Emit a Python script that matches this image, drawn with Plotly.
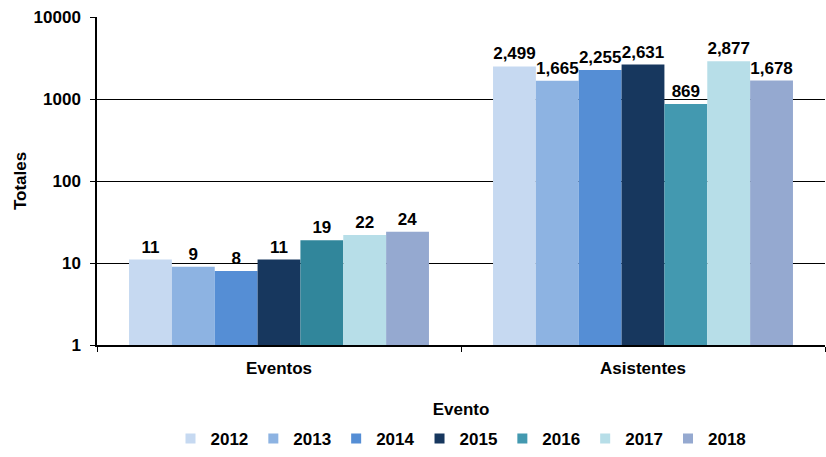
import plotly.graph_objects as go

categories = ["Eventos", "Asistentes"]
years = ["2012", "2013", "2014", "2015", "2016", "2017", "2018"]
values = {
    "2012": [11, 2499],
    "2013": [9, 1665],
    "2014": [8, 2255],
    "2015": [11, 2631],
    "2016": [19, 869],
    "2017": [22, 2877],
    "2018": [24, 1678],
}
colors = {
    "2012": ["#C6D9F1", "#C6D9F1"],
    "2013": ["#8DB3E2", "#8DB3E2"],
    "2014": ["#558ED5", "#558ED5"],
    "2015": ["#17375E", "#17375E"],
    "2016": ["#31869B", "#4399B0"],
    "2017": ["#B7DEE8", "#B7DEE8"],
    "2018": ["#95A9D0", "#95A9D0"],
}

FONT = "Liberation Sans, Arial, sans-serif"

fig = go.Figure()
for yr in years:
    fig.add_trace(
        go.Bar(
            x=categories,
            y=values[yr],
            name=yr,
            marker={"color": colors[yr], "line": {"width": 0}},
            text=[f"{v:,}" for v in values[yr]],
            texttemplate="<b>%{text}</b>",
            textposition="outside",
            textfont={"family": FONT, "size": 17, "color": "black"},
            cliponaxis=False,
            showlegend=False,
        )
    )

# legend entries as small squares, like the original
for yr in years:
    fig.add_trace(
        go.Scatter(
            x=[None],
            y=[None],
            mode="markers",
            name=f"<b>{yr}</b>",
            marker={"symbol": "square", "size": 10, "color": colors[yr][-1]},
        )
    )

fig.update_layout(
    width=826,
    height=457,
    barmode="group",
    bargap=0.176,
    bargroupgap=0,
    plot_bgcolor="white",
    paper_bgcolor="white",
    margin={"l": 97, "r": 1, "t": 17, "b": 111},
    font={"family": FONT, "size": 17, "color": "black"},
    showlegend=True,
    legend={
        "orientation": "h",
        "x": 0.5,
        "xanchor": "center",
        "y": -0.23,
        "yanchor": "top",
        "font": {"family": FONT, "size": 17, "color": "black"},
        "itemwidth": 30,
        "traceorder": "normal",
    },
)
fig.update_xaxes(
    title={"text": "<b>Evento</b>", "font": {"size": 17}, "standoff": 26},
    tickfont={"size": 17},
    tickvals=categories,
    ticktext=[f"<b>{c}</b>" for c in categories],
    ticklabelstandoff=7,
    showline=True,
    linecolor="black",
    linewidth=1.5,
    ticks="outside",
    tickson="boundaries",
    ticklen=5,
    tickcolor="black",
    automargin=False,
)
fig.update_yaxes(
    type="log",
    range=[0, 4],
    tickvals=[1, 10, 100, 1000, 10000],
    ticktext=["<b>1</b>", "<b>10</b>", "<b>100</b>", "<b>1000</b>", "<b>10000</b>"],
    tickfont={"size": 17},
    ticklabelstandoff=6,
    title={"text": "<b>Totales</b>", "font": {"size": 17}, "standoff": 3},
    showline=True,
    linecolor="black",
    linewidth=1.5,
    ticks="outside",
    ticklen=5,
    tickcolor="black",
    showgrid=True,
    gridcolor="black",
    gridwidth=1,
    zeroline=False,
    automargin=False,
)

fig.write_html(
    "out.html",
    config={"displayModeBar": False},
    post_script="document.body.style.margin='0';",
)
